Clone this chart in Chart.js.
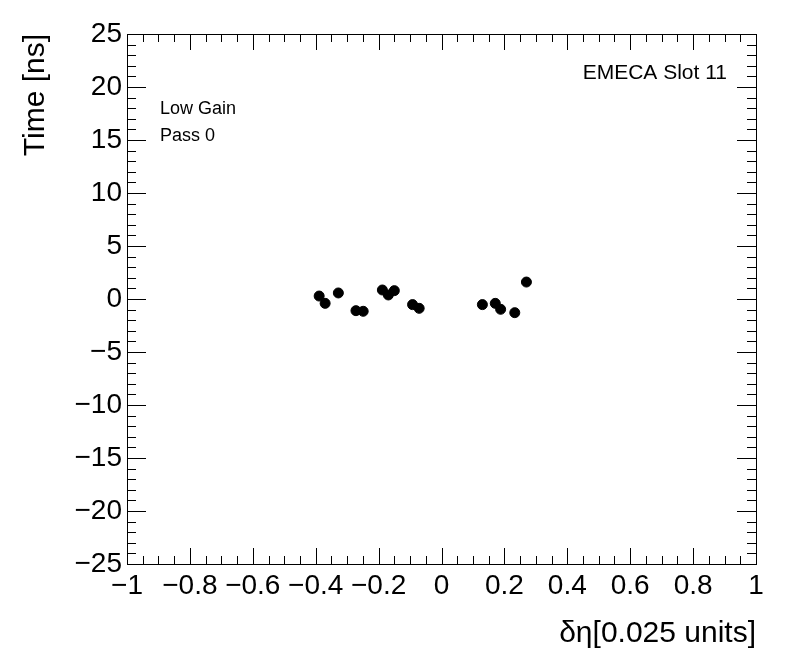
<!DOCTYPE html>
<html>
<head>
<meta charset="utf-8">
<script src="https://cdn.jsdelivr.net/npm/chart.js@4"></script>
<style>
  html, body { margin: 0; padding: 0; background: #fff; }
  #wrap { width: 796px; height: 672px; }
</style>
</head>
<body>
<div id="wrap"><canvas id="chart" width="796" height="672"></canvas></div>
<script>
// delta eta offsets [0.025 units] and timing [ns]
const deltaEta = [-0.389, -0.370, -0.328, -0.272, -0.249, -0.188, -0.169, -0.150, -0.092, -0.071,
                  0.130, 0.171, 0.188, 0.233, 0.270];
const timeNs = [0.28, -0.41, 0.57, -1.10, -1.16, 0.85, 0.38, 0.79, -0.53, -0.88,
                -0.53, -0.41, -0.97, -1.29, 1.60];

const xRange = [-1, 1];
const yRange = [-25, 25];
const xMajor = 0.2, xMinor = 0.05;
const yMajor = 5, yMinor = 1;

const labelsTopLeft = ['Low Gain', 'Pass 0'];
const labelTopRight = 'EMECA Slot 11';

const FONT = '"Liberation Sans", Arial, Helvetica, sans-serif';

function fmt(v) {
    let s = String(Math.round(v * 10) / 10);
    return s.replace('-', '\u2212');
}

// ROOT-style frame with inward ticks on all sides
const rootFrame = {
    id: 'rootFrame',
    afterDraw(chart) {
        const ctx = chart.ctx;
        const xs = chart.scales.x, ys = chart.scales.y;
        const a = chart.chartArea;
        ctx.save();
        ctx.strokeStyle = '#000';
        ctx.lineWidth = 1;
        ctx.strokeRect(a.left + 0.5, a.top + 0.5, a.right - a.left, a.bottom - a.top);
        ctx.beginPath();
        const nx = Math.round((xRange[1] - xRange[0]) / xMinor);
        for (let i = 0; i <= nx; i++) {
            const v = xRange[0] + i * xMinor;
            const px = Math.round(xs.getPixelForValue(v)) + 0.5;
            const len = (i % Math.round(xMajor / xMinor) === 0) ? 16 : 8;
            ctx.moveTo(px, a.bottom); ctx.lineTo(px, a.bottom - len);
            ctx.moveTo(px, a.top); ctx.lineTo(px, a.top + len);
        }
        const ny = Math.round((yRange[1] - yRange[0]) / yMinor);
        for (let i = 0; i <= ny; i++) {
            const v = yRange[0] + i * yMinor;
            const py = Math.round(ys.getPixelForValue(v)) + 0.5;
            const len = (i % Math.round(yMajor / yMinor) === 0) ? 19 : 9;
            ctx.moveTo(a.left, py); ctx.lineTo(a.left + len, py);
            ctx.moveTo(a.right, py); ctx.lineTo(a.right - len, py);
        }
        ctx.stroke();

        ctx.fillStyle = '#000';
        ctx.textBaseline = 'alphabetic';
        ctx.font = '18px ' + FONT;
        ctx.textAlign = 'left';
        ctx.fillText(labelsTopLeft[0], 160, 114);
        ctx.fillText(labelsTopLeft[1], 160, 141);
        ctx.font = '21px ' + FONT;
        ctx.textAlign = 'right';
        ctx.fillText(labelTopRight, 727, 79);
        ctx.restore();
    }
};

const ctx = document.querySelector('#chart').getContext('2d');
const myChart = new Chart(ctx, {
    type: 'scatter',
    data: {
        datasets: [{
            data: deltaEta.map((x, i) => ({ x: x, y: timeNs[i] })),
            backgroundColor: '#000',
            borderColor: '#000',
            pointRadius: 5,
            pointHoverRadius: 5
        }]
    },
    options: {
        responsive: false,
        animation: false,
        events: [],
        layout: { padding: { top: 34, right: 40, left: 0, bottom: 0 } },
        plugins: { legend: { display: false }, tooltip: { enabled: false } },
        scales: {
            x: {
                type: 'linear',
                min: xRange[0], max: xRange[1],
                afterFit(scale) { scale.height = 108; },
                grid: { display: false, drawTicks: false },
                border: { display: false },
                ticks: {
                    stepSize: xMajor,
                    padding: 5,
                    maxRotation: 0,
                    autoSkip: false,
                    color: '#000',
                    font: { family: FONT, size: 28 },
                    callback: (v) => fmt(v)
                },
                title: {
                    display: true,
                    text: '\u03b4\u03b7[0.025 units]',
                    align: 'end',
                    color: '#000',
                    font: { family: FONT, size: 30 },
                    padding: { top: 0, bottom: 20 }
                }
            },
            y: {
                type: 'linear',
                min: yRange[0], max: yRange[1],
                afterFit(scale) { scale.width = 127; },
                grid: { display: false, drawTicks: false },
                border: { display: false },
                ticks: {
                    stepSize: yMajor,
                    padding: 5,
                    autoSkip: false,
                    color: '#000',
                    font: { family: FONT, size: 28 },
                    callback: (v) => fmt(v)
                },
                title: {
                    display: true,
                    text: 'Time [ns]',
                    align: 'end',
                    color: '#000',
                    font: { family: FONT, size: 30 },
                    padding: { top: 18, bottom: 0 }
                }
            }
        }
    },
    plugins: [rootFrame]
});
</script>
</body>
</html>
